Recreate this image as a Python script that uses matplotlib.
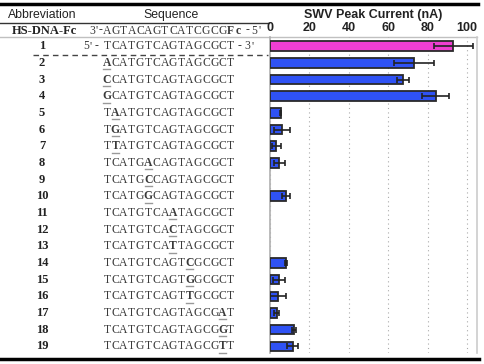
import matplotlib.pyplot as plt
import numpy as np

W, H = 485, 364

# table data
row_labels = [str(i) for i in range(1, 20)]
probe_seq = "AGTACAGTCATCGCG"
sequences = [
    "TCATGTCAGTAGCGCT", "ACATGTCAGTAGCGCT", "CCATGTCAGTAGCGCT", "GCATGTCAGTAGCGCT",
    "TAATGTCAGTAGCGCT", "TGATGTCAGTAGCGCT", "TTATGTCAGTAGCGCT", "TCATGACAGTAGCGCT",
    "TCATGCCAGTAGCGCT", "TCATGGCAGTAGCGCT", "TCATGTCAATAGCGCT", "TCATGTCACTAGCGCT",
    "TCATGTCATTAGCGCT", "TCATGTCAGTCGCGCT", "TCATGTCAGTGGCGCT", "TCATGTCAGTTGCGCT",
    "TCATGTCAGTAGCGAT", "TCATGTCAGTAGCGGT", "TCATGTCAGTAGCGTT",
]
mut_pos = [-1, 0, 0, 0, 1, 1, 1, 5, 5, 5, 8, 8, 8, 10, 10, 10, 14, 14, 14]

# SWV peak current (nA) and error
current = [93, 73, 67.5, 84, 5.4, 6.2, 3.2, 4.6, 0, 8, 0, 0, 0, 8, 4.4, 4.1, 3.4, 12, 11.5]
error = [10, 10, 3, 7, 0.4, 4, 2.2, 2.8, 0, 2.1, 0, 0, 0, 0.4, 3, 4, 1.2, 1, 2.8]

fig = plt.figure(figsize=(W / 100, H / 100), dpi=100)

# overlay in pixel coords for the table part
ov = fig.add_axes([0, 0, 1, 1], zorder=0)
ov.set_xlim(0, W)
ov.set_ylim(H, 0)
ov.axis("off")

# chart axes
ax_top, ax_bot, ax_left, ax_right = 37, 353, 270, 477
ax = fig.add_axes([ax_left / W, 1 - ax_bot / H, (ax_right - ax_left) / W, (ax_bot - ax_top) / H], zorder=1)
ax.set_facecolor("none")

y = np.arange(1, len(current) + 1)
vals = np.array(current)
errs = np.array(error)
colors = ["#f03ed2"] + ["#2f52f4"] * (len(vals) - 1)
m = vals > 0
ax.barh(y[m], vals[m], xerr=errs[m], height=0.57, color=np.array(colors)[m],
        edgecolor="#2a2a2a", linewidth=1.3,
        error_kw=dict(ecolor="#222", elinewidth=1.2, capsize=2.5, capthick=1.2), zorder=3)

ax.set_xlim(0, 105)
ax.set_ylim(19.4, 0.45)
ax.set_yticks([])
ax.xaxis.tick_top()
ax.set_xticks([0, 20, 40, 60, 80, 100])
ax.tick_params(axis="x", length=0, pad=2.5, labelsize=9, labelcolor="#222")
for t in ax.get_xticklabels():
    t.set_fontweight("bold")
    t.set_family("Liberation Sans")
ax.grid(axis="x", color="#aaaaaa", linestyle=(0, (1, 3)), linewidth=0.8, zorder=0)
ax.spines["top"].set_visible(False)
ax.spines["bottom"].set_visible(False)
ax.spines["left"].set_color("#b0b0b0")
ax.spines["left"].set_linewidth(1.2)
ax.spines["right"].set_color("#cccccc")
ax.spines["right"].set_linewidth(1.2)

# rows in pixel space
row_px = ax_top + (y - 0.45) * (ax_bot - ax_top) / (19.4 - 0.45)

# header
ov.text(373, 15, "SWV Peak Current (nA)", ha="center", va="center", fontsize=9,
        fontweight="bold", family="Liberation Sans", color="#222")
ov.text(42, 15, "Abbreviation", ha="center", va="center", fontsize=8.8,
        family="Liberation Sans", color="#222")
ov.text(171, 15, "Sequence", ha="center", va="center", fontsize=8.8,
        family="Liberation Sans", color="#222")

# rules
ov.plot([0, 478], [3.5, 3.5], color="black", lw=2.5)
ov.plot([0, 269], [22.5, 22.5], color="#333", lw=1)
ov.plot([0, 477], [37, 37], color="#c0c0c0", lw=1)
ov.plot([33, 268], [54.5, 54.5], color="#444", lw=1, dashes=(4, 3))
ov.plot([0, 479], [359, 359], color="black", lw=2.5)

x0, step = 107, 8.25
seq_font = dict(family="Liberation Serif", fontsize=8.4, va="center", ha="center", color="#3a3a3a")


def put_chars(chars, ypx, bold_col=-1, underline=False):
    for i, ch in enumerate(chars):
        xc = x0 + i * step
        ov.text(xc, ypx, ch, fontweight="bold" if i == bold_col else "normal", **seq_font)
        if i == bold_col and underline:
            ov.plot([xc - 3.5, xc + 3.5], [ypx + 6.5, ypx + 6.5], color="#999", lw=1)


def put_at(chars, xs, ypx, bold=False):
    for ch, xc in zip(chars, xs):
        ov.text(xc, ypx, ch, fontweight="bold" if bold else "normal", **seq_font)


# HS-DNA-Fc row
hs_y = 30.5
ov.text(44, hs_y, "HS-DNA-Fc", ha="center", va="center", fontsize=9,
        fontweight="bold", family="Liberation Serif", color="#222")
put_at("3'-", [92, 96.5, 100.5], hs_y)
put_chars(probe_seq, hs_y)
put_at("Fc", [x0 + 15 * step, x0 + 15.9 * step], hs_y, bold=True)
put_at("-5'", [247.5, 254.5, 260], hs_y)

for lab, seq, mp, ry in zip(row_labels, sequences, mut_pos, row_px):
    ov.text(42, ry, lab, ha="center", va="center", fontsize=9, fontweight="bold",
            family="Liberation Serif", color="#222")
    if mp < 0:
        put_at("5'-", [86, 91, 97], ry)
        put_chars(seq, ry)
        put_at("-3'", [239.5, 247, 253], ry)
    else:
        put_chars(seq, ry, bold_col=mp, underline=True)

fig.savefig("out.png", dpi=100)
